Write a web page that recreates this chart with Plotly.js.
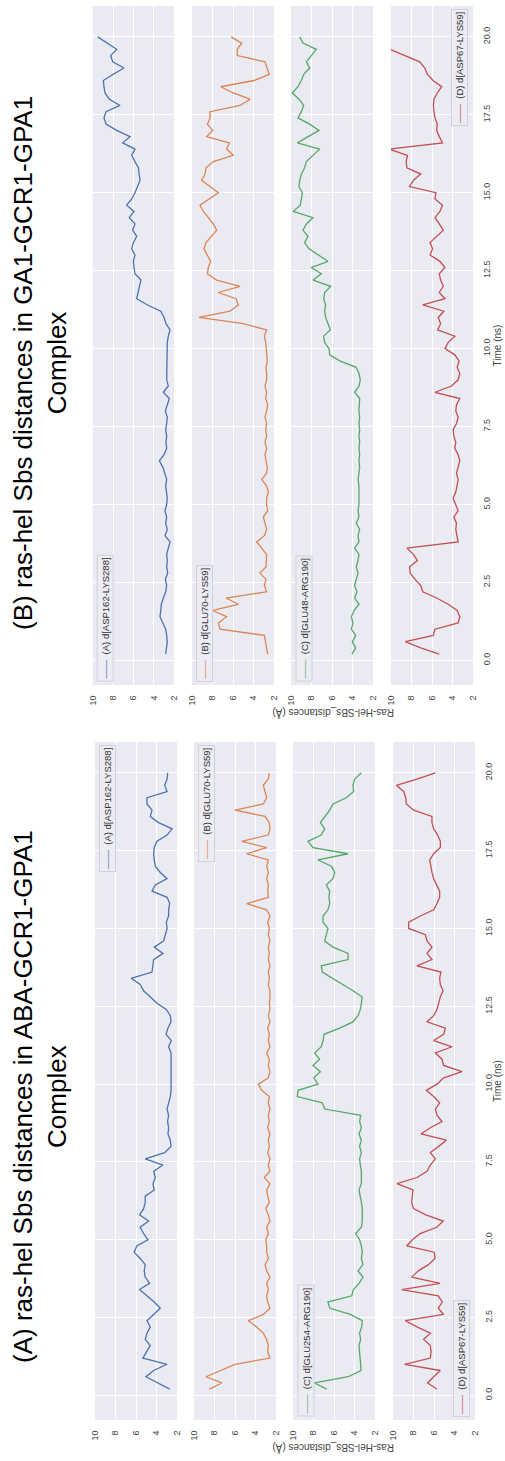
<!DOCTYPE html>
<html><head><meta charset="utf-8">
<script src="https://cdn.plot.ly/plotly-3.0.1.min.js"></script>
<style>html,body{margin:0;padding:0;background:#fff}#chart{width:505px;height:1461px}</style>
</head><body><div id="chart"></div>
<script>
// ---- data ----
const timeNs = [0.2,0.4,0.6,0.8,1.0,1.2,1.4,1.6,1.8,2.0,2.2,2.4,2.6,2.8,3.0,3.2,3.4,3.6,3.8,4.0,
4.2,4.4,4.6,4.8,5.0,5.2,5.4,5.6,5.8,6.0,6.2,6.4,6.6,6.8,7.0,7.2,7.4,7.6,7.8,8.0,
8.2,8.4,8.6,8.8,9.0,9.2,9.4,9.6,9.8,10.0,10.2,10.4,10.6,10.8,11.0,11.2,11.4,11.6,11.8,12.0,
12.2,12.4,12.6,12.8,13.0,13.2,13.4,13.6,13.8,14.0,14.2,14.4,14.6,14.8,15.0,15.2,15.4,15.6,15.8,16.0,
16.2,16.4,16.6,16.8,17.0,17.2,17.4,17.6,17.8,18.0,18.2,18.4,18.6,18.8,19.0,19.2,19.4,19.6,19.8,20.0];

const timeTickVals = [0,2.5,5,7.5,10,12.5,15,17.5,20];
const timeTickText = ['0.0','2.5','5.0','7.5','10.0','12.5','15.0','17.5','20.0'];
const distTickVals = [2,4,6,8,10];
const distTickText = ['2','4','6','8','10'];

const titleA = '(A) ras-hel Sbs distances in ABA-GCR1-GPA1<br>Complex';
const titleB = '(B) ras-hel Sbs distances in GA1-GCR1-GPA1<br>Complex';
const distLabel = 'Ras-Hel-SBs_distances (Å)';
const timeLabel = 'Time (ns)';

const namesA = ['(A) d[ASP162-LYS288]','(B) d[GLU70-LYS59]','(C) d[GLU254-ARG190]','(D) d[ASP67-LYS59]'];
const namesB = ['(A) d[ASP162-LYS288]','(B) d[GLU70-LYS59]','(C) d[GLU48-ARG190]','(D) d[ASP67-LYS59]'];

// Complex (A): ABA-GCR1-GPA1
const aba_ASP162_LYS288 = [2.71,3.95,5.03,4.28,2.97,5.33,4.93,4.61,5.1,4.93,4.61,4.93,4.28,3.63,4.22,4.93,5.65,4.67,5.1,5.2,5.1,5.59,6.18,
5.92,4.84,5.26,5.59,4.77,5.65,5.26,5.1,5.1,4.22,4.35,4.12,4.28,3.37,5.1,3.2,2.58,2.65,2.88,2.82,2.92,2.82,2.97,2.82,2.65,2.58,2.58,2.58,2.65,2.58,2.65,2.58,2.82,2.55,3.07,2.88,2.58,2.65,3.05,3.95,4.6,
5.26,5.59,6.47,4.44,4.38,4.28,3.37,4.22,3.3,3.14,2.97,3.04,2.82,2.82,2.71,2.97,4.44,4.12,2.97,3.63,4.12,4.22,4.28,4.22,3.95,2.97,2.48,3.79,4.61,4.44,4.93,4.93,2.97,3.2,2.97,2.91];
const aba_GLU70_LYS59 = [8.5,7.3,8.83,7.46,6.0,2.59,2.81,2.75,2.91,3.24,3.89,4.7,3.24,2.59,2.81,2.91,2.75,2.91,2.59,2.91,3.07,2.75,2.91,
2.91,3.0,2.75,2.91,2.59,2.75,3.0,2.65,2.81,2.91,2.59,3.14,2.59,2.75,2.59,2.81,2.65,2.75,2.59,2.81,2.65,2.75,2.59,2.75,2.65,3.4,3.72,2.75,2.59,2.75,2.65,2.91,2.59,2.75,2.65,2.81,2.59,2.75,2.59,2.65,2.59,
2.59,2.75,2.65,2.75,2.59,2.75,2.65,2.75,2.59,2.75,2.65,2.81,2.59,2.91,4.86,2.75,2.81,2.75,2.91,2.75,2.91,2.75,4.86,2.91,5.35,2.75,2.59,2.65,3.07,6.0,3.24,2.91,3.07,3.24,2.75,2.65];
const aba_GLU254_ARG190 = [6.71,7.9,4.6,3.37,3.4,3.43,3.5,3.56,3.4,3.5,3.3,3.24,4.4,6.4,6.6,4.27,4.1,3.56,3.17,3.66,3.17,3.33,3.24,
3.33,3.5,3.89,3.33,3.24,3.24,3.24,3.33,3.43,3.56,3.33,3.33,3.33,3.43,3.5,3.33,3.5,3.33,3.56,3.33,3.5,3.4,6.91,7.14,9.58,9.51,7.56,7.98,7.33,8.05,7.4,7.89,7.24,7.07,6.98,5.45,4.15,3.66,3.43,3.33,3.24,
4.15,5.12,6.1,7.14,7.24,4.63,4.63,6.1,6.91,6.75,6.59,7.07,7.07,6.59,6.42,6.49,6.42,6.75,6.1,5.93,6.26,7.56,4.63,8.05,8.54,7.24,6.91,7.33,6.91,6.42,6.1,4.8,4.08,4.15,3.98,3.33];
const aba_ASP67_LYS59 = [5.71,6.62,6.03,5.38,8.86,6.36,6.29,6.36,7.01,6.36,7.66,8.8,5.06,5.58,5.19,5.58,9.15,5.41,8.18,7.53,6.55,5.9,5.97,
8.67,8.1,7.35,5.74,5.09,6.8,8.0,8.18,8.15,8.05,9.61,7.66,6.68,6.36,5.87,6.36,5.54,4.8,7.27,6.36,5.22,5.71,5.87,5.45,6.03,6.75,5.71,5.06,3.27,5.06,5.22,5.87,4.24,6.03,5.06,4.89,6.68,6.03,5.71,5.54,5.38,
5.12,5.38,5.45,5.32,7.66,6.2,6.68,6.2,6.68,6.85,8.47,8.47,7.33,6.03,5.71,5.45,5.45,5.71,6.03,6.2,6.29,6.42,6.03,5.38,5.38,5.64,6.03,6.2,6.2,7.98,8.7,8.76,8.96,9.67,7.66,5.87];

// Complex (B): GA1-GCR1-GPA1
const ga_ASP162_LYS288 = [2.82,2.72,2.66,2.72,2.82,3.1,3.38,3.3,3.25,3.05,2.82,2.72,2.85,2.62,2.72,2.66,2.72,2.56,2.39,2.89,2.66,2.82,2.72,2.89,2.72,
2.66,2.72,2.82,2.72,2.89,3.1,3.44,2.98,2.72,2.79,2.72,2.82,2.72,2.66,2.85,2.66,2.46,3.05,2.56,2.72,2.72,2.66,2.72,2.72,2.72,2.66,2.56,2.39,2.79,2.98,3.3,4.6,5.67,5.57,5.4,5.25,5.84,5.93,6.0,5.84,
6.16,6.0,5.67,6.07,5.84,6.4,5.93,6.66,6.16,5.84,5.57,5.34,5.44,5.5,5.84,6.16,5.84,7.05,6.33,7.64,8.69,8.89,8.69,7.31,8.36,8.79,8.89,8.95,7.97,6.92,8.03,8.23,7.64,8.56,9.51];
const ga_GLU70_LYS59 = [2.62,2.72,2.81,2.94,7.27,7.43,6.62,7.98,5.48,6.68,2.72,2.94,2.78,3.37,2.78,2.72,2.72,3.2,3.69,2.94,2.72,2.88,3.04,2.62,2.72,
2.72,2.55,2.72,3.2,2.72,2.65,2.78,2.88,2.72,2.88,2.72,2.81,2.72,2.88,2.72,2.62,2.81,2.72,2.88,2.72,2.72,2.78,2.65,2.72,2.72,2.81,2.94,2.72,4.99,9.32,6.29,5.48,5.71,7.43,5.32,7.59,8.5,8.41,8.18,8.5,
8.83,8.63,8.08,7.59,7.92,8.41,8.89,9.22,8.31,7.43,8.24,9.06,8.73,8.63,7.92,5.97,6.62,6.36,8.57,7.98,8.5,8.24,8.24,5.32,4.34,5.97,7.2,3.95,2.46,2.65,2.88,5.58,5.58,5.15,6.2];
const ga_GLU48_ARG190 = [4.05,3.69,4.02,3.69,4.11,3.95,4.11,3.85,3.37,3.79,3.56,3.79,3.63,3.46,3.63,3.46,3.37,3.79,3.37,3.46,3.3,3.63,3.37,3.46,3.37,
3.37,3.3,3.37,3.46,3.37,3.3,3.37,3.3,3.37,3.3,3.37,3.3,3.37,3.3,3.37,3.37,3.3,3.79,3.37,3.24,3.37,3.63,5.2,6.23,6.29,6.72,6.81,6.16,6.39,6.62,6.72,6.62,6.81,6.72,6.13,7.85,7.04,8.02,6.39,7.37,
8.24,8.67,8.34,8.83,8.5,7.85,9.8,9.09,8.99,8.89,9.22,9.15,8.99,8.67,8.5,7.85,7.2,9.38,8.34,7.27,8.18,9.32,8.99,8.76,9.22,9.87,9.32,8.99,8.76,8.18,8.5,8.02,7.53,8.83,9.15];
const ga_ASP67_LYS59 = [5.29,7.1,8.61,5.87,5.71,3.45,3.29,3.55,4.42,5.55,6.9,7.1,7.65,8.13,8.19,7.42,7.81,8.45,3.45,3.55,3.68,3.61,3.87,3.45,3.68,
3.94,3.68,3.55,3.45,3.61,3.45,3.29,3.45,3.77,3.68,3.87,3.94,3.61,3.45,3.68,3.61,3.29,5.71,4.1,3.45,3.29,3.55,3.35,3.77,4.74,4.42,3.77,5.45,5.16,5.39,4.84,6.9,4.74,5.29,4.9,5.16,5.29,4.74,5.23,6.19,
5.94,6.19,5.55,4.9,5.29,5.71,5.23,4.97,5.71,5.61,8.19,7.81,7.1,8.45,8.52,8.39,10.2,4.97,5.29,5.55,5.48,5.71,5.81,5.87,5.81,5.48,5.05,5.9,6.45,6.7,7.2,8.7,10.2,11.6,13.0];

const seriesColors = ['#4C72B0','#DD8452','#55A868','#C44E52'];

// ---- layout helpers (pixel geometry of the figure) ----
const W = 505, H = 1461;
const px = v => v / W;
const py = v => 1 - v / H;

const panels = [
  { title: titleB, titleY: 363, top: 6, bottom: 685, tickLabelY: 713,
    lefts: [92.7,192,291,391], rights: [174,274,373,473],
    names: namesB, data: [ga_ASP162_LYS288, ga_GLU70_LYS59, ga_GLU48_ARG190, ga_ASP67_LYS59],
    legendCorner: ['bl','bl','bl','tr'] },
  { title: titleA, titleY: 1097, top: 742, bottom: 1420, tickLabelY: 1448,
    lefts: [95,194,293,393], rights: [177,276,375,475],
    names: namesA, data: [aba_ASP162_LYS288, aba_GLU70_LYS59, aba_GLU254_ARG190, aba_ASP67_LYS59],
    legendCorner: ['tl','tl','bl','br'] }
];

const FONT = 'Liberation Sans, Arial, sans-serif';
const traces = [];
const layout = {
  width: W, height: H,
  margin: {l:0, r:0, t:0, b:0},
  paper_bgcolor: '#ffffff',
  plot_bgcolor: '#EAEAF2',
  showlegend: false,
  font: {family: FONT, color: '#333'},
  annotations: []
};

let idx = 0;
panels.forEach((p) => {
  for (let k = 0; k < 4; k++) {
    idx++;
    const sx = idx === 1 ? '' : String(idx);
    traces.push({
      type: 'scatter', mode: 'lines',
      x: p.data[k], y: timeNs,
      xaxis: 'x' + sx, yaxis: 'y' + sx,
      line: {color: seriesColors[k], width: 1.3},
      name: p.names[k], hoverinfo: 'skip'
    });
    layout['xaxis' + sx] = {
      domain: [px(p.lefts[k]), px(p.rights[k])],
      anchor: 'y' + sx,
      range: [10, 2],
      tickvals: distTickVals, ticktext: distTickText,
      tickangle: -90,
      showgrid: true, gridcolor: '#ffffff', gridwidth: 1,
      zeroline: false, showline: false,
      ticks: 'outside', ticklen: 6, tickcolor: 'rgba(0,0,0,0)',
      tickfont: {size: 9, color: '#444', family: FONT},
      fixedrange: true
    };
    layout['yaxis' + sx] = {
      domain: [py(p.bottom), py(p.top)],
      anchor: 'x' + sx,
      range: [-0.79, 20.99],
      tickvals: timeTickVals, ticktext: timeTickText,
      showticklabels: k === 3,
      side: 'right',
      tickangle: -90,
      showgrid: true, gridcolor: '#ffffff', gridwidth: 1,
      zeroline: false, showline: false,
      ticks: 'outside', ticklen: 5, tickcolor: 'rgba(0,0,0,0)',
      tickfont: {size: 9, color: '#444', family: FONT},
      fixedrange: true
    };
    // legend box (rotated like the rest of the figure)
    const c = p.legendCorner[k];
    const isTop = c[0] === 't', isRight = c[1] === 'r';
    layout.annotations.push({
      xref: 'x' + sx + ' domain', yref: 'y' + sx + ' domain',
      x: isRight ? 1 : 0, y: isTop ? 1 : 0,
      xanchor: isRight ? 'right' : 'left', yanchor: isTop ? 'top' : 'bottom',
      xshift: isRight ? -5 : 4, yshift: isTop ? -3 : 3,
      textangle: -90, showarrow: false,
      text: '<span style="color:' + seriesColors[k] + '">——</span>  ' + p.names[k],
      font: {size: 9.5, color: '#333', family: FONT},
      bgcolor: 'rgba(236,236,243,0.9)', bordercolor: '#d0d0d8', borderwidth: 1, borderpad: 2
    });
  }
  // panel title
  layout.annotations.push({
    xref: 'paper', yref: 'paper', x: px(40), y: py(p.titleY),
    xanchor: 'center', yanchor: 'middle', showarrow: false,
    textangle: -90, text: p.title, align: 'center',
    font: {size: 26, color: '#000', family: FONT}
  });
  // time axis label
  layout.annotations.push({
    xref: 'paper', yref: 'paper', x: px(497), y: py((p.top + p.bottom) / 2),
    xanchor: 'center', yanchor: 'middle', showarrow: false,
    textangle: -90, text: timeLabel,
    font: {size: 10, color: '#444', family: FONT}
  });
  // distance axis label (upside down)
  layout.annotations.push({
    xref: 'paper', yref: 'paper', x: px(333), y: py(p.tickLabelY),
    xanchor: 'center', yanchor: 'middle', showarrow: false,
    textangle: 180, text: distLabel,
    font: {size: 10, color: '#444', family: FONT}
  });
});

Plotly.newPlot('chart', traces, layout, {staticPlot: true, displayModeBar: false});
</script>
</body></html>
